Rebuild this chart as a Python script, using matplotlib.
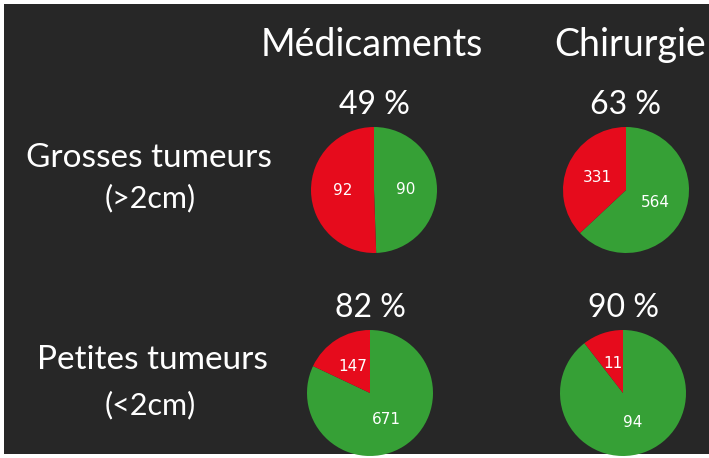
import matplotlib.pyplot as plt
from matplotlib.patches import Rectangle

# data
columns = ["Médicaments", "Chirurgie"]
rows = ["Grosses tumeurs", "Petites tumeurs"]
sizes = ["(>2cm)", "(<2cm)"]
# success (green) / failure (red) counts, row by row
green = [[90, 564], [671, 94]]
red = [[92, 331], [147, 11]]
percents = [["49 %", "63 %"], ["82 %", "90 %"]]

W, H = 709, 458
bg = "#272727"
col_green = "#36a036"
col_red = "#e60b1c"
font = ["Lato", "DejaVu Sans"]

fig = plt.figure(figsize=(W / 100, H / 100), dpi=100, facecolor="white")
# chalkboard area (thin white edge on left, top and bottom)
fig.patches.append(Rectangle((4 / W, 4 / H), 1 - 4 / W, 1 - 8 / H,
                             transform=fig.transFigure, facecolor=bg,
                             edgecolor="none", zorder=-10))

def fx(px):
    return px / W

def fy(py):
    return 1 - py / H

# pie centres in pixels, radius 63
centres = [[(374, 190), (626, 190)], [(370, 393), (623, 393)]]
r = 63

for i in range(2):
    for j in range(2):
        cx, cy = centres[i][j]
        ax = fig.add_axes([fx(cx - r), fy(cy + r), 2 * r / W, 2 * r / H])
        ax.patch.set_visible(False)
        vals = [green[i][j], red[i][j]]
        ax.pie(vals, colors=[col_green, col_red], startangle=90, counterclock=False,
               labels=[str(v) for v in vals], labeldistance=0.5,
               textprops=dict(color="white", fontsize=11, ha="center", va="center",
                              family="DejaVu Sans"),
               wedgeprops=dict(linewidth=0))
        ax.set_xlim(-1, 1)
        ax.set_ylim(-1, 1)
        ax.set_aspect("equal")
        ax.axis("off")
        fig.text(fx(cx), fy(cy - r - 22), percents[i][j], color="white", fontsize=23,
                 ha="center", va="center", family=font)

# column headers
fig.text(fx(372), fy(45), columns[0], color="white", fontsize=27, ha="center",
         va="center", family=font)
fig.text(fx(630), fy(45), columns[1], color="white", fontsize=27, ha="center",
         va="center", family=font)

# row headers
fig.text(fx(149), fy(158), rows[0], color="white", fontsize=24, ha="center",
         va="center", family=font)
fig.text(fx(150), fy(198), sizes[0], color="white", fontsize=22, ha="center",
         va="center", family=font)
fig.text(fx(152), fy(360), rows[1], color="white", fontsize=24, ha="center",
         va="center", family=font)
fig.text(fx(150), fy(405), sizes[1], color="white", fontsize=22, ha="center",
         va="center", family=font)

fig.savefig("out.png", dpi=100, facecolor="white")
